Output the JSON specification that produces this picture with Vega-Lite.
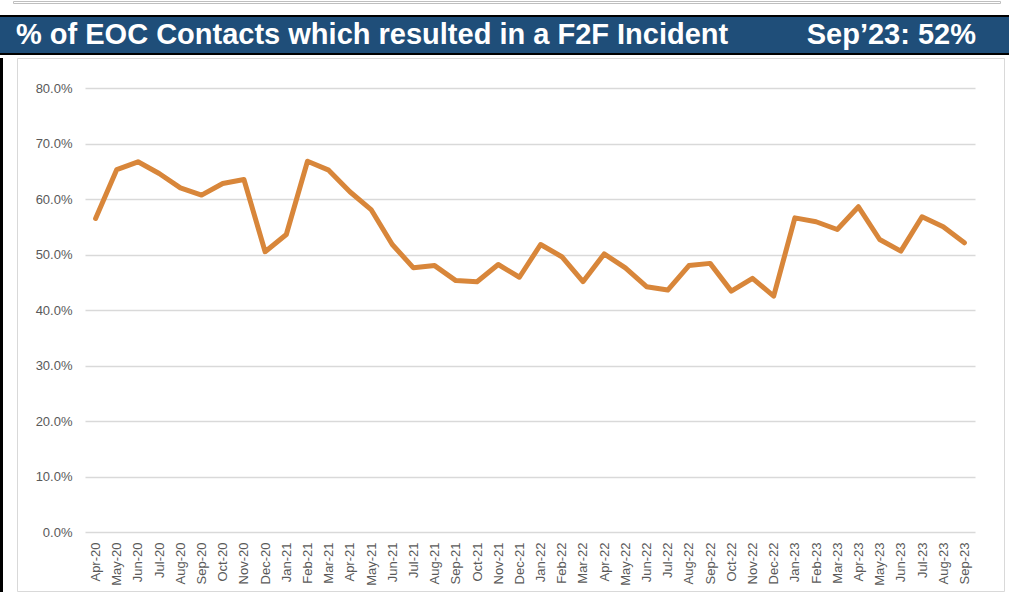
{
  "$schema": "https://vega.github.io/schema/vega-lite/v6.json",
  "background": "white",
  "padding": 0,
  "bounds": "flush",
  "spacing": 0,
  "config": {"view": {"stroke": null}, "font": "Liberation Sans"},
  "vconcat": [
    {
      "bounds": "flush",
      "spacing": 12,
      "hconcat": [
        {"width": 1, "height": 2, "data": {"values": []}, "mark": "point", "encoding": {}},
        {"width": 987, "height": 2, "view": {"fill": "white", "stroke": "#BFBFBF", "strokeWidth": 1}, "data": {"values": []}, "mark": "point", "encoding": {}}
      ]
    },
    {"width": 1, "height": 14, "data": {"values": []}, "mark": "point", "encoding": {}},
    {"width": 1009, "height": 2, "view": {"fill": "#000000", "stroke": null}, "data": {"values": []}, "mark": "point", "encoding": {}},
    {
      "width": 1009,
      "height": 36,
      "view": {"fill": "#1F4E79", "stroke": null},
      "data": {"values": [
        {"side": "L", "label": "% of EOC Contacts which resulted in a F2F Incident"},
        {"side": "R", "label": "Sep’23: 52%"}
      ]},
      "encoding": {
        "x": {"field": "side", "type": "nominal", "scale": {"type": "point", "padding": 0}, "axis": null},
        "text": {"field": "label"}
      },
      "layer": [
        {
          "transform": [{"filter": "datum.side === 'L'"}],
          "mark": {"type": "text", "align": "left", "baseline": "middle", "dx": 16, "fontSize": 29, "fontWeight": "bold", "color": "#FFFFFF", "font": "Liberation Sans"}
        },
        {
          "transform": [{"filter": "datum.side === 'R'"}],
          "mark": {"type": "text", "align": "right", "baseline": "middle", "dx": -33, "fontSize": 29, "fontWeight": "bold", "color": "#FFFFFF", "font": "Liberation Sans"}
        }
      ]
    },
    {"width": 1009, "height": 2, "view": {"fill": "#000000", "stroke": null}, "data": {"values": []}, "mark": "point", "encoding": {}},
    {"width": 1, "height": 3, "data": {"values": []}, "mark": "point", "encoding": {}},
    {
      "bounds": "flush",
      "spacing": 14,
      "hconcat": [
        {"width": 3, "height": 535, "view": {"fill": "#000000", "stroke": null}, "data": {"values": []}, "mark": "point", "encoding": {}},
        {
          "width": 987,
          "height": 533,
          "view": {"fill": "white", "stroke": "#D9D9D9", "strokeWidth": 1},
          "data": {"values": [
            {"month": "Apr-20", "pct": 0.565},
            {"month": "May-20", "pct": 0.653},
            {"month": "Jun-20", "pct": 0.667},
            {"month": "Jul-20", "pct": 0.646},
            {"month": "Aug-20", "pct": 0.620},
            {"month": "Sep-20", "pct": 0.607},
            {"month": "Oct-20", "pct": 0.628},
            {"month": "Nov-20", "pct": 0.635},
            {"month": "Dec-20", "pct": 0.505},
            {"month": "Jan-21", "pct": 0.536},
            {"month": "Feb-21", "pct": 0.668},
            {"month": "Mar-21", "pct": 0.652},
            {"month": "Apr-21", "pct": 0.613},
            {"month": "May-21", "pct": 0.581},
            {"month": "Jun-21", "pct": 0.518},
            {"month": "Jul-21", "pct": 0.476},
            {"month": "Aug-21", "pct": 0.480},
            {"month": "Sep-21", "pct": 0.453},
            {"month": "Oct-21", "pct": 0.451},
            {"month": "Nov-21", "pct": 0.482},
            {"month": "Dec-21", "pct": 0.459},
            {"month": "Jan-22", "pct": 0.518},
            {"month": "Feb-22", "pct": 0.496},
            {"month": "Mar-22", "pct": 0.451},
            {"month": "Apr-22", "pct": 0.501},
            {"month": "May-22", "pct": 0.476},
            {"month": "Jun-22", "pct": 0.442},
            {"month": "Jul-22", "pct": 0.436},
            {"month": "Aug-22", "pct": 0.480},
            {"month": "Sep-22", "pct": 0.484},
            {"month": "Oct-22", "pct": 0.434},
            {"month": "Nov-22", "pct": 0.457},
            {"month": "Dec-22", "pct": 0.425},
            {"month": "Jan-23", "pct": 0.566},
            {"month": "Feb-23", "pct": 0.559},
            {"month": "Mar-23", "pct": 0.545},
            {"month": "Apr-23", "pct": 0.586},
            {"month": "May-23", "pct": 0.527},
            {"month": "Jun-23", "pct": 0.506},
            {"month": "Jul-23", "pct": 0.568},
            {"month": "Aug-23", "pct": 0.550},
            {"month": "Sep-23", "pct": 0.521}
          ]},
          "mark": {"type": "line", "color": "#D8863A", "strokeWidth": 5, "strokeJoin": "round", "strokeCap": "round"},
          "encoding": {
            "x": {
              "field": "month", "type": "ordinal", "sort": null,
              "scale": {"type": "point", "range": [68, 958], "padding": 0.5},
              "axis": {"title": null, "labelAngle": -90, "labelAlign": "right", "labelBaseline": "middle", "labelFontSize": 13, "labelColor": "#595959", "labelFont": "Liberation Sans", "labelPadding": 10, "ticks": false, "domain": false, "grid": false, "offset": -59, "labelOverlap": false}
            },
            "y": {
              "field": "pct", "type": "quantitative",
              "scale": {"domain": [0, 0.8], "range": [474, 30], "nice": false},
              "axis": {"title": null, "values": [0, 0.1, 0.2, 0.3, 0.4, 0.5, 0.6, 0.7, 0.8], "format": ".1%", "labelFontSize": 13, "labelColor": "#595959", "labelFont": "Liberation Sans", "labelPadding": 13, "ticks": false, "domain": false, "grid": true, "gridColor": "#D9D9D9", "gridWidth": 1.5, "offset": -68}
            }
          }
        }
      ]
    }
  ]
}
